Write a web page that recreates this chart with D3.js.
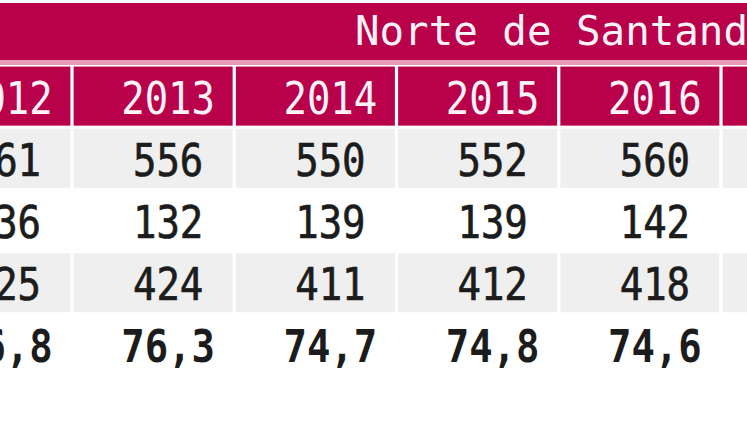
<!DOCTYPE html>
<html>
<head>
<meta charset="utf-8">
<script src="https://cdn.jsdelivr.net/npm/d3@7"></script>
<style>
  html, body { margin: 0; padding: 0; background: #ffffff; }
  svg { display: block; }
</style>
</head>
<body>
<script>
// ---- data ----
const title = "Norte de Santander";
const years = ["2012", "2013", "2014", "2015", "2016", "2017"];
const rowKeys = ["r1", "r2", "r3", "r4"];
const row1 = ["561", "556", "550", "552", "560", ""];
const row2 = ["136", "132", "139", "139", "142", ""];
const row3 = ["425", "424", "411", "412", "418", ""];
const row4 = ["76,8", "76,3", "74,7", "74,8", "74,6", ""];
const rows = [row1, row2, row3, row4];

// ---- layout ----
const W = 747, H = 427;
const crimson = "#b9004b";
const pink = "#e79bb9";
const grey = "#efefef";
const font = "'DejaVu Sans Mono', 'Liberation Mono', monospace";
const stretch = 1.15;

const svg = d3.select("body").append("svg")
  .attr("width", W).attr("height", H);

const x = d3.scaleBand()
  .domain(years)
  .range([-90.25, 883.25])
  .paddingInner(0.02)
  .paddingOuter(0.01);

const y = d3.scaleBand()
  .domain(["header"].concat(rowKeys))
  .range([65, 376])
  .paddingInner(0.05)
  .paddingOuter(0.025);

// title band
svg.append("rect").attr("x", 0).attr("y", 3).attr("width", W).attr("height", 57)
  .attr("fill", crimson);
svg.append("rect").attr("x", 0).attr("y", 60).attr("width", W).attr("height", 5)
  .attr("fill", pink);
svg.append("text")
  .attr("transform", "translate(355,45)")
  .attr("font-family", font).attr("font-size", 40.8)
  .attr("fill", "#fdf3f7")
  .text(title);

// header cells
const hdr = svg.append("g");
hdr.selectAll("rect").data(years).join("rect")
  .attr("x", d => x(d)).attr("y", y("header"))
  .attr("width", x.bandwidth()).attr("height", y.bandwidth())
  .attr("fill", crimson);
hdr.selectAll("text").data(years).join("text")
  .attr("transform", d => `translate(${x(d) + x.bandwidth() / 2 + 15},${y("header") + 47}) scale(1,${stretch})`)
  .attr("text-anchor", "middle")
  .attr("font-family", font).attr("font-size", 39)
  .attr("fill", "#fdf3f7")
  .text(d => d);

// body rows
rowKeys.forEach((k, i) => {
  const g = svg.append("g");
  const cells = years.map((yr, j) => ({ yr, v: rows[i][j] }));
  g.selectAll("rect").data(cells).join("rect")
    .attr("x", d => x(d.yr)).attr("y", y(k))
    .attr("width", x.bandwidth()).attr("height", y.bandwidth())
    .attr("fill", i % 2 === 0 ? grey : "#ffffff");
  g.selectAll("text").data(cells).join("text")
    .attr("transform", d => `translate(${x(d.yr) + x.bandwidth() / 2 + 15},${y(k) + 47}) scale(1,${stretch})`)
    .attr("text-anchor", "middle")
    .attr("font-family", font).attr("font-size", 39)
    .attr("font-weight", i === 3 ? "bold" : "normal")
    .attr("fill", "#1c1c1c")
    .attr("stroke", i === 3 ? "none" : "#1c1c1c")
    .attr("stroke-width", i === 3 ? 0 : 0.6)
    .text(d => d.v);
});
</script>
</body>
</html>
